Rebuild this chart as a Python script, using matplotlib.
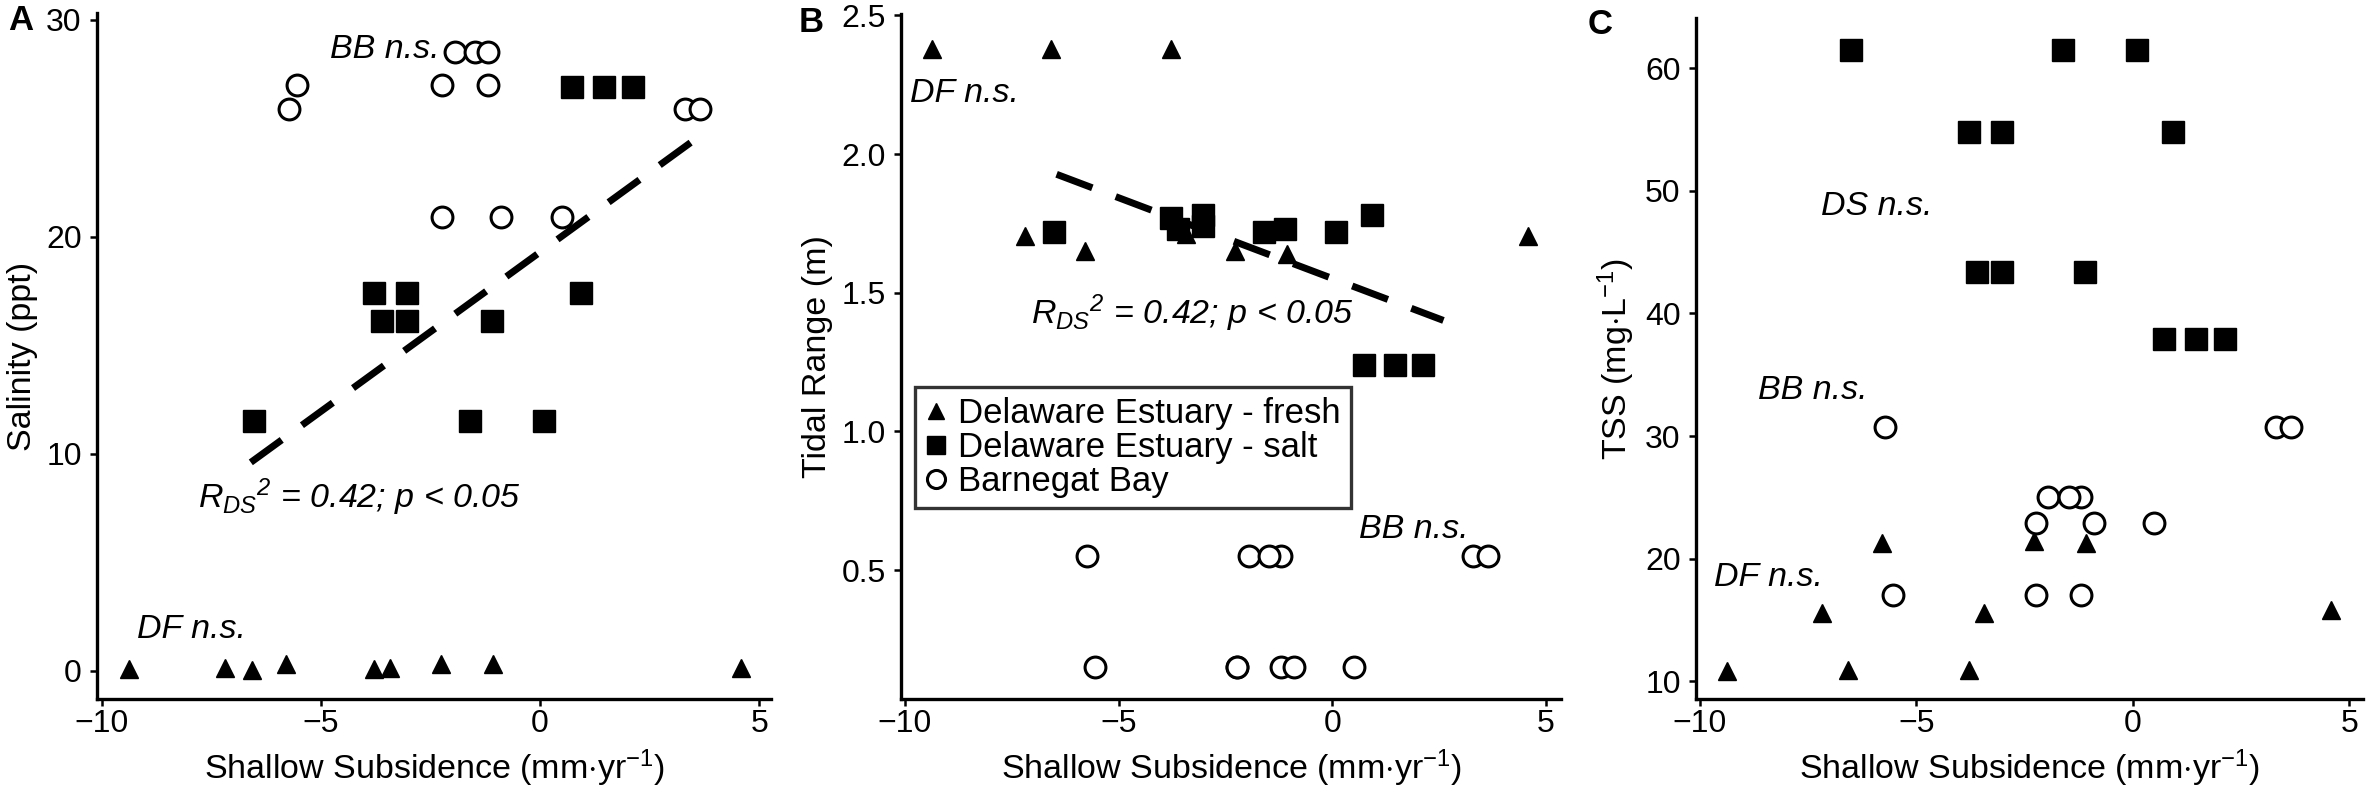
import matplotlib
matplotlib.use("Agg")
import matplotlib.pyplot as plt
from matplotlib.lines import Line2D

plt.rcParams['font.family'] = ['Liberation Sans', 'DejaVu Sans']
plt.rcParams['mathtext.fontset'] = 'custom'
plt.rcParams['mathtext.rm'] = 'Liberation Sans'
plt.rcParams['mathtext.it'] = 'Liberation Sans:italic'
plt.rcParams['mathtext.bf'] = 'Liberation Sans:bold'

# ---- data ----
fresh_x = [-9.37, -7.19, -6.57, -5.79, -3.78, -3.43, -2.27, -1.07, 4.58]
salt_x = [-6.52, -3.78, -3.60, -3.03, -3.03, -1.60, -1.10, 0.09, 0.93, 0.73, 1.47, 2.13]
bb_x = [-5.73, -5.54, -2.24, -1.19, -1.95, -1.48, -1.19, -2.24, -0.90, 0.50, 3.30, 3.65]

fresh_sal = [0.1, 0.15, 0.05, 0.3, 0.1, 0.15, 0.3, 0.3, 0.15]
salt_sal = [11.5, 17.4, 16.1, 17.4, 16.1, 11.5, 16.1, 11.5, 17.4, 26.9, 26.9, 26.9]
bb_sal = [25.9, 27.0, 27.0, 27.0, 28.5, 28.5, 28.5, 20.9, 20.9, 20.9, 25.9, 25.9]

fresh_tide = [2.38, 1.705, 2.38, 1.65, 2.38, 1.71, 1.65, 1.64, 1.705]
salt_tide = [1.72, 1.77, 1.73, 1.78, 1.74, 1.72, 1.73, 1.72, 1.78, 1.24, 1.24, 1.24]
bb_tide = [0.55, 0.15, 0.15, 0.55, 0.55, 0.55, 0.15, 0.15, 0.15, 0.15, 0.55, 0.55]

fresh_tss = [10.8, 15.6, 10.9, 21.3, 10.9, 15.6, 21.4, 21.3, 15.8]
salt_tss = [61.5, 54.8, 43.4, 54.8, 43.4, 61.5, 43.4, 61.5, 54.8, 37.9, 37.9, 37.9]
bb_tss = [30.7, 17.0, 22.9, 25.06, 25.06, 25.06, 17.0, 17.0, 22.9, 22.9, 30.7, 30.7]

fit_sal_x = [-6.6, 3.45]
fit_sal_y = [9.6, 24.35]
fit_tide_x = [-6.45, 2.6]
fit_tide_y = [1.927, 1.40]

series_labels = ['Delaware Estuary - fresh', 'Delaware Estuary - salt', 'Barnegat Bay']
xlabel = r'Shallow Subsidence (mm$\cdot$yr$^{\mathregular{-1}}$)'
ylabels = ['Salinity (ppt)', 'Tidal Range (m)', r'TSS (mg$\cdot$L$^{\mathregular{-1}}$)']
panel_letters = ['A', 'B', 'C']
stat_text = r'$R_{DS}$$^{\mathregular{2}}$ = 0.42; p < 0.05'

# ---- layout ----
W, H = 2370, 791
fig = plt.figure(figsize=(W / 100, H / 100), dpi=100)

def px_axes(l, r, t, b):
    return fig.add_axes([l / W, 1 - b / H, (r - l) / W, (b - t) / H])

axA = px_axes(97, 771, 13, 699)
axB = px_axes(901, 1561, 14, 699)
axC = px_axes(1696, 2363, 18, 699)

TICK_FS = 23
LAB_FS = 24.5
ANN_FS = 24.5

def style(ax):
    for s in ['top', 'right']:
        ax.spines[s].set_visible(False)
    for s in ['left', 'bottom']:
        ax.spines[s].set_linewidth(2.4)
    ax.tick_params(direction='out', length=5, width=1.8, labelsize=TICK_FS)
    ax.tick_params(axis='x', pad=2.5)
    ax.tick_params(axis='y', pad=6)
    ax.set_xticks([-10, -5, 0, 5])
    ax.set_xticklabels(['\u221210', '\u22125', '0', '5'])
    ax.set_xlabel(xlabel, fontsize=LAB_FS, labelpad=6)

def draw(ax, fy, sy, by):
    ax.plot(fresh_x, fy, linestyle='none', marker='^', ms=13, color='black', zorder=3)
    ax.plot(salt_x, sy, linestyle='none', marker='s', ms=16, color='black', zorder=3)
    ax.plot(bb_x, by, linestyle='none', marker='o', ms=15, mfc='white', mec='black', mew=2.2, zorder=3)

DASH = (5.5, 3.6)

# Panel A
draw(axA, fresh_sal, salt_sal, bb_sal)
axA.plot(fit_sal_x, fit_sal_y, color='black', lw=5, dashes=DASH, zorder=4)
axA.set_xlim(-10.11, 5.27)
axA.set_ylim(-1.3, 30.3)
axA.set_yticks([0, 10, 20, 30])
axA.set_ylabel(ylabels[0], fontsize=LAB_FS, labelpad=6)
style(axA)
axA.text(-4.8, 28.6, 'BB n.s.', style='italic', fontsize=ANN_FS, va='center', ha='left')
axA.text(-7.8, 8.0, stat_text, style='italic', fontsize=ANN_FS, va='center', ha='left')
axA.text(-9.2, 1.9, 'DF n.s.', style='italic', fontsize=ANN_FS, va='center', ha='left')

# Panel B
draw(axB, fresh_tide, salt_tide, bb_tide)
axB.plot(fit_tide_x, fit_tide_y, color='black', lw=5, dashes=DASH, zorder=4)
axB.set_xlim(-10.09, 5.35)
axB.set_ylim(0.035, 2.505)
axB.set_yticks([0.5, 1.0, 1.5, 2.0, 2.5])
axB.set_yticklabels(['0.5', '1.0', '1.5', '2.0', '2.5'])
axB.set_ylabel(ylabels[1], fontsize=LAB_FS, labelpad=6)
style(axB)
axB.text(-9.87, 2.22, 'DF n.s.', style='italic', fontsize=ANN_FS, va='center', ha='left')
axB.text(-7.06, 1.427, stat_text, style='italic', fontsize=ANN_FS, va='center', ha='left')
axB.text(0.63, 0.645, 'BB n.s.', style='italic', fontsize=ANN_FS, va='center', ha='left')
handles = [
    Line2D([], [], linestyle='none', marker='^', ms=12, color='black'),
    Line2D([], [], linestyle='none', marker='s', ms=13, color='black'),
    Line2D([], [], linestyle='none', marker='o', ms=13, mfc='white', mec='black', mew=2.2),
]
leg = axB.legend(handles, series_labels, loc='upper left',
                 bbox_to_anchor=((915 - 901) / 660, 1 - (387 - 14) / 685),
                 fontsize=25, frameon=True, fancybox=False, handlelength=0.6,
                 handletextpad=0.35, borderpad=0.3, labelspacing=0.02, borderaxespad=0)
leg.get_frame().set_edgecolor('black')
leg.get_frame().set_linewidth(2.4)

# Panel C
draw(axC, fresh_tss, salt_tss, bb_tss)
axC.set_xlim(-10.09, 5.32)
axC.set_ylim(8.55, 64.1)
axC.set_yticks([10, 20, 30, 40, 50, 60])
axC.set_ylabel(ylabels[2], fontsize=LAB_FS, labelpad=6)
style(axC)
axC.text(-7.21, 48.7, 'DS n.s.', style='italic', fontsize=ANN_FS, va='center', ha='left')
axC.text(-8.65, 33.7, 'BB n.s.', style='italic', fontsize=ANN_FS, va='center', ha='left')
axC.text(-9.67, 18.5, 'DF n.s.', style='italic', fontsize=ANN_FS, va='center', ha='left')

# panel letters
for letter, xpx, ypx in zip(panel_letters, [8, 799, 1588], [21, 23, 25]):
    fig.text(xpx / W, 1 - ypx / H, letter, fontsize=25, fontweight='bold', va='center', ha='left')

fig.savefig('out.png', dpi=100)
